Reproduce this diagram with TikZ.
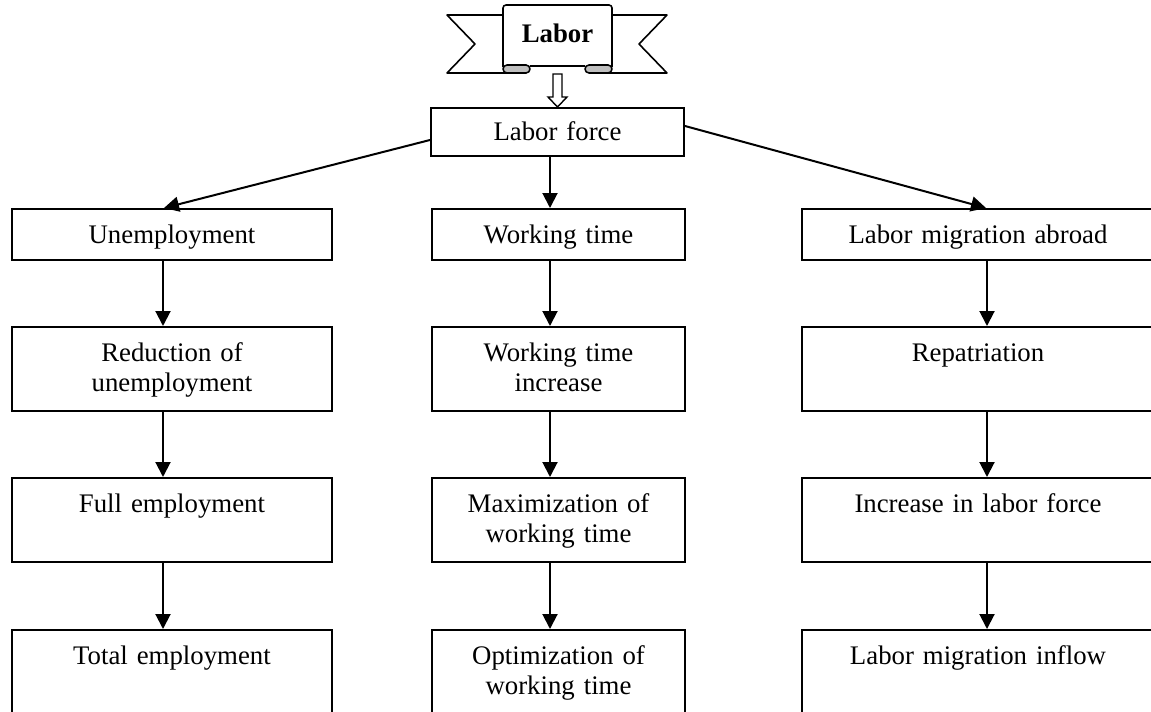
\documentclass[tikz,border=0pt]{standalone}
\usepackage{fontspec}
\setmainfont{Liberation Serif}
\usetikzlibrary{arrows.meta}

\tikzset{
  stepbox/.style={draw, line width=1pt, anchor=north west, inner xsep=0pt, inner ysep=0pt,
    align=center, font=\fontsize{13.4}{15}\selectfont, text height=17pt},
  shortbox/.style={stepbox, text depth=8.5pt},
  tallbox/.style={stepbox, text depth=25pt},
  flow/.style={-{Triangle[length=7.5pt,width=7.5pt]}, line width=1pt},
  ribbon/.style={line width=0.8pt, line join=round},
}

\begin{document}
\begin{tikzpicture}[x=0.5pt, y=-0.5pt]

    % --- Frame ---
    \clip (0,0) rectangle (1151,712);

    % --- Banner ---
    % Tails behind the front panel
    \draw[ribbon, fill=white] (503,15) -- (447,15) -- (475,44) -- (447,73) -- (512,73);
    \draw[ribbon, fill=white] (612,15) -- (667,15) -- (639,44) -- (667,73) -- (603,73);
    % Front panel
    \draw[ribbon, fill=white, rounded corners=1.5pt] (503,67) -- (503,5) -- (612,5) -- (612,67);
    \draw[ribbon] (530,66) -- (585,66);
    % Folded ends
    \draw[ribbon, fill=black!25, rounded corners=2pt] (530,65) -- (503,65) -- (503,73) -- (530,73) -- cycle;
    \draw[ribbon, fill=black!25, rounded corners=2pt] (585,65) -- (612,65) -- (612,73) -- (585,73) -- cycle;
    \node[font=\fontsize{13.4}{15}\selectfont\bfseries, anchor=base] (labor) at (557.5,42) {Labor};

    % --- Boxes ---
    \node[stepbox, text width=126.5pt, text depth=8pt, text height=16pt] (force) at (430,107) {Labor force};

    % left column
    \node[shortbox, text width=160pt] (unemp)    at (11,208) {Unemployment};
    \node[tallbox,  text width=160pt] (reduce)   at (11,326) {Reduction of\\unemployment};
    \node[tallbox,  text width=160pt] (fullemp)  at (11,477) {Full employment};
    \node[tallbox,  text width=160pt] (totalemp) at (11,629) {Total employment};

    % middle column
    \node[shortbox, text width=126.5pt] (wtime)     at (431,208) {Working time};
    \node[tallbox,  text width=126.5pt] (wincrease) at (431,326) {Working time\\increase};
    \node[tallbox,  text width=126.5pt] (wmax)      at (431,477) {Maximization of\\working time};
    \node[tallbox,  text width=126.5pt] (wopt)      at (431,629) {Optimization of\\working time};

    % right column (runs past the right edge)
    \node[shortbox, text width=176pt] (migr)      at (801,208) {Labor migration abroad};
    \node[tallbox,  text width=176pt] (repat)     at (801,326) {Repatriation};
    \node[tallbox,  text width=176pt] (lforceinc) at (801,477) {Increase in labor force};
    \node[tallbox,  text width=176pt] (inflow)    at (801,629) {Labor migration inflow};

    % --- Hollow arrow from banner ---
    \draw[line width=0.7pt, fill=white] (force.north) -- ++(-9.5,-10) -- ++(5,0) -- ++(0,-23)
        -- ++(9,0) -- ++(0,23) -- ++(5,0) -- cycle;

    % --- Arrows ---
    \draw[flow] ([yshift=-4pt]force.west) -- ([xshift=-4pt]unemp.north);
    \draw[flow] ([xshift=-4.25pt]wtime.north |- force.south) -- ([xshift=-4.25pt]wtime.north);
    \draw[flow] ([yshift=3pt]force.east) -- ([xshift=4pt]migr.north);

    \draw[flow] ([xshift=-4.5pt]unemp.south)   -- ([xshift=-4.5pt]reduce.north);
    \draw[flow] ([xshift=-4.5pt]reduce.south)  -- ([xshift=-4.5pt]fullemp.north);
    \draw[flow] ([xshift=-4.5pt]fullemp.south) -- ([xshift=-4.5pt]totalemp.north);

    \draw[flow] ([xshift=-4.25pt]wtime.south)     -- ([xshift=-4.25pt]wincrease.north);
    \draw[flow] ([xshift=-4.25pt]wincrease.south) -- ([xshift=-4.25pt]wmax.north);
    \draw[flow] ([xshift=-4.25pt]wmax.south)      -- ([xshift=-4.25pt]wopt.north);

    \draw[flow] ([xshift=4.5pt]migr.south)      -- ([xshift=4.5pt]repat.north);
    \draw[flow] ([xshift=4.5pt]repat.south)     -- ([xshift=4.5pt]lforceinc.north);
    \draw[flow] ([xshift=4.5pt]lforceinc.south) -- ([xshift=4.5pt]inflow.north);

\end{tikzpicture}
\end{document}
